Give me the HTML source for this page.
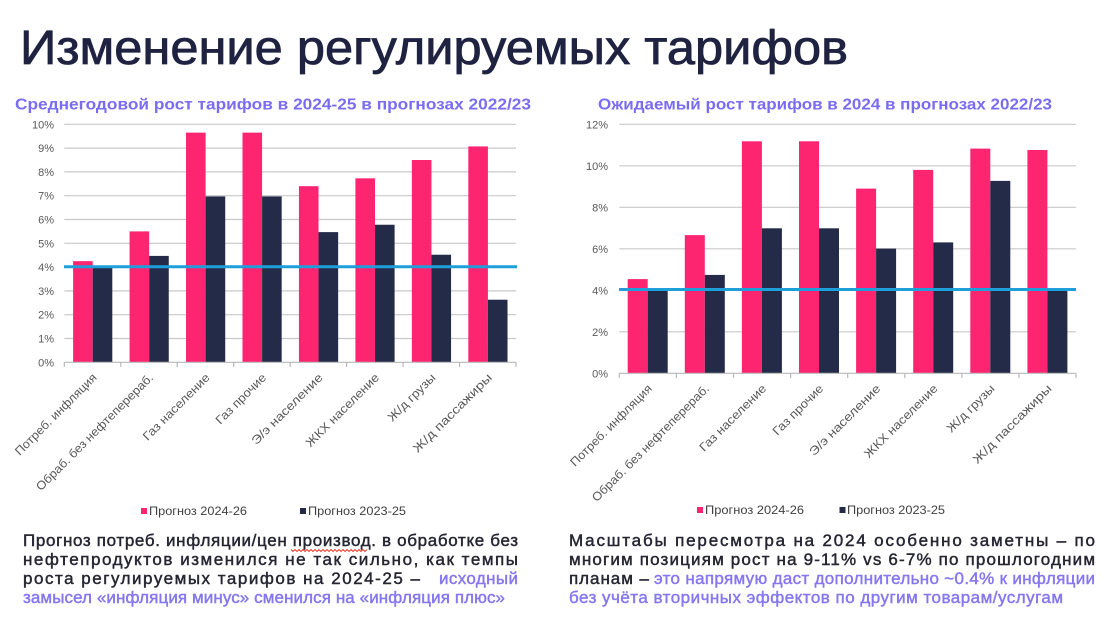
<!DOCTYPE html>
<html>
<head>
<meta charset="utf-8">
<style>
  html, body { margin: 0; padding: 0; background: #ffffff; }
  body { width: 1119px; height: 623px; overflow: hidden; }
  svg { display: block; font-family: "Liberation Sans", "DejaVu Sans", sans-serif; }
  .ax { font-size: 11px; fill: #595959; }
  .xl { font-size: 12px; fill: #595959; }
  .lg { font-size: 12px; fill: #404040; }
  .bd { font-size: 17px; fill: #262633; stroke: #262633; stroke-width: 0.45; }
  .bp { font-size: 17px; fill: #8577f0; stroke: #8577f0; stroke-width: 0.45; }
  .st { font-size: 16px; font-weight: bold; fill: #7a6cf2; }
</style>
</head>
<body>
<svg width="1119" height="623" viewBox="0 0 1119 623" xmlns="http://www.w3.org/2000/svg">
  <rect x="0" y="0" width="1119" height="623" fill="#ffffff"/>

  <!-- Title -->
  <text x="20" y="64" font-size="48" fill="#1f2341" stroke="#1f2341" stroke-width="0.8" textLength="828" lengthAdjust="spacingAndGlyphs">Изменение регулируемых тарифов</text>

  <!-- Subtitles -->
  <text class="st" x="15" y="109.5" textLength="516" lengthAdjust="spacingAndGlyphs">Среднегодовой рост тарифов в 2024-25 в прогнозах 2022/23</text>
  <text class="st" x="598" y="109.5" textLength="454" lengthAdjust="spacingAndGlyphs">Ожидаемый рост тарифов в 2024 в прогнозах 2022/23</text>

  <!-- ================= LEFT CHART ================= -->
  <g stroke="#c8c8c8" stroke-width="1.2">
    <line x1="64.3" y1="338.5" x2="516" y2="338.5"/>
    <line x1="64.3" y1="314.7" x2="516" y2="314.7"/>
    <line x1="64.3" y1="290.9" x2="516" y2="290.9"/>
    <line x1="64.3" y1="267.1" x2="516" y2="267.1"/>
    <line x1="64.3" y1="243.3" x2="516" y2="243.3"/>
    <line x1="64.3" y1="219.5" x2="516" y2="219.5"/>
    <line x1="64.3" y1="195.7" x2="516" y2="195.7"/>
    <line x1="64.3" y1="171.9" x2="516" y2="171.9"/>
    <line x1="64.3" y1="148.1" x2="516" y2="148.1"/>
    <line x1="64.3" y1="124.3" x2="516" y2="124.3"/>
  </g>
  <g class="ax" text-anchor="end">
    <text x="54" y="366.3">0%</text>
    <text x="54" y="342.5">1%</text>
    <text x="54" y="318.7">2%</text>
    <text x="54" y="294.9">3%</text>
    <text x="54" y="271.1">4%</text>
    <text x="54" y="247.3">5%</text>
    <text x="54" y="223.5">6%</text>
    <text x="54" y="199.7">7%</text>
    <text x="54" y="175.9">8%</text>
    <text x="54" y="152.1">9%</text>
    <text x="54" y="128.3">10%</text>
  </g>
  <!-- bars left -->
  <g fill="#fd2570">
    <rect x="73.1" y="261.15" width="19.6" height="101.15"/>
    <rect x="129.56" y="231.4" width="19.6" height="130.9"/>
    <rect x="186.02" y="132.63" width="19.6" height="229.67"/>
    <rect x="242.48" y="132.63" width="19.6" height="229.67"/>
    <rect x="298.94" y="186.18" width="19.6" height="176.12"/>
    <rect x="355.4" y="178.33" width="19.6" height="183.97"/>
    <rect x="411.86" y="160" width="19.6" height="202.3"/>
    <rect x="468.32" y="146.43" width="19.6" height="215.87"/>
  </g>
  <g fill="#232b48">
    <rect x="92.7" y="266.62" width="19.6" height="95.68"/>
    <rect x="149.16" y="255.91" width="19.6" height="106.39"/>
    <rect x="205.62" y="196.41" width="19.6" height="165.89"/>
    <rect x="262.08" y="196.41" width="19.6" height="165.89"/>
    <rect x="318.54" y="232.11" width="19.6" height="130.19"/>
    <rect x="375.0" y="224.74" width="19.6" height="137.56"/>
    <rect x="431.46" y="254.72" width="19.6" height="107.58"/>
    <rect x="487.92" y="299.71" width="19.6" height="62.59"/>
  </g>
  <!-- axis left -->
  <g stroke="#b8b8b8" stroke-width="1.2">
    <line x1="64.3" y1="362.3" x2="516" y2="362.3"/>
    <line x1="64.3" y1="362.3" x2="64.3" y2="367"/>
    <line x1="120.76" y1="362.3" x2="120.76" y2="367"/>
    <line x1="177.22" y1="362.3" x2="177.22" y2="367"/>
    <line x1="233.68" y1="362.3" x2="233.68" y2="367"/>
    <line x1="290.14" y1="362.3" x2="290.14" y2="367"/>
    <line x1="346.6" y1="362.3" x2="346.6" y2="367"/>
    <line x1="403.06" y1="362.3" x2="403.06" y2="367"/>
    <line x1="459.52" y1="362.3" x2="459.52" y2="367"/>
    <line x1="516" y1="362.3" x2="516" y2="367"/>
  </g>
  <!-- blue 4% line left -->
  <line x1="64" y1="266.8" x2="517" y2="266.8" stroke="#1f9fda" stroke-width="3"/>
  <!-- x labels left -->
  <g class="xl" text-anchor="end">
    <text transform="translate(97.5,378.3) rotate(-45)" textLength="110" lengthAdjust="spacingAndGlyphs">Потреб. инфляция</text>
    <text transform="translate(154,378.3) rotate(-45)" textLength="160" lengthAdjust="spacingAndGlyphs">Обраб. без нефтеперераб.</text>
    <text transform="translate(210.5,378.3) rotate(-45)" textLength="89" lengthAdjust="spacingAndGlyphs">Газ население</text>
    <text transform="translate(267,378.3) rotate(-45)" textLength="66" lengthAdjust="spacingAndGlyphs">Газ прочие</text>
    <text transform="translate(323.4,378.3) rotate(-45)" textLength="95" lengthAdjust="spacingAndGlyphs">Э/э население</text>
    <text transform="translate(379.8,378.3) rotate(-45)" textLength="98" lengthAdjust="spacingAndGlyphs">ЖКХ население</text>
    <text transform="translate(436.3,378.3) rotate(-45)" textLength="62" lengthAdjust="spacingAndGlyphs">Ж/д грузы</text>
    <text transform="translate(492.7,378.3) rotate(-45)" textLength="106" lengthAdjust="spacingAndGlyphs">Ж/д пассажиры</text>
  </g>
  <!-- legend left -->
  <rect x="141" y="508" width="6" height="6" fill="#fd2570"/>
  <text class="lg" x="149" y="515" textLength="98" lengthAdjust="spacingAndGlyphs">Прогноз 2024-26</text>
  <rect x="300" y="508" width="6" height="6" fill="#232b48"/>
  <text class="lg" x="308" y="515" textLength="98" lengthAdjust="spacingAndGlyphs">Прогноз 2023-25</text>

  <!-- ================= RIGHT CHART ================= -->
  <g stroke="#c8c8c8" stroke-width="1.2">
    <line x1="619.3" y1="331.8" x2="1076" y2="331.8"/>
    <line x1="619.3" y1="290.3" x2="1076" y2="290.3"/>
    <line x1="619.3" y1="248.8" x2="1076" y2="248.8"/>
    <line x1="619.3" y1="207.3" x2="1076" y2="207.3"/>
    <line x1="619.3" y1="165.8" x2="1076" y2="165.8"/>
    <line x1="619.3" y1="124.3" x2="1076" y2="124.3"/>
  </g>
  <g class="ax" text-anchor="end">
    <text x="608" y="377.3">0%</text>
    <text x="608" y="335.8">2%</text>
    <text x="608" y="294.3">4%</text>
    <text x="608" y="252.8">6%</text>
    <text x="608" y="211.3">8%</text>
    <text x="608" y="169.8">10%</text>
    <text x="608" y="128.3">12%</text>
  </g>
  <g fill="#fd2570">
    <rect x="627.7" y="279.1" width="20" height="94.2"/>
    <rect x="684.8" y="235.1" width="20" height="138.2"/>
    <rect x="741.9" y="141.3" width="20" height="232"/>
    <rect x="799.0" y="141.3" width="20" height="232"/>
    <rect x="856.1" y="188.6" width="20" height="184.7"/>
    <rect x="913.2" y="169.9" width="20" height="203.4"/>
    <rect x="970.3" y="148.6" width="20" height="224.7"/>
    <rect x="1027.4" y="150.0" width="20" height="223.3"/>
  </g>
  <g fill="#232b48">
    <rect x="647.7" y="290.1" width="20" height="83.2"/>
    <rect x="704.8" y="274.9" width="20" height="98.4"/>
    <rect x="761.9" y="228.3" width="20" height="145"/>
    <rect x="819.0" y="228.3" width="20" height="145"/>
    <rect x="876.1" y="248.6" width="20" height="124.7"/>
    <rect x="933.2" y="242.4" width="20" height="130.9"/>
    <rect x="990.3" y="180.9" width="20" height="192.4"/>
    <rect x="1047.4" y="290.3" width="20" height="83"/>
  </g>
  <g stroke="#b8b8b8" stroke-width="1.2">
    <line x1="619.3" y1="373.3" x2="1076" y2="373.3"/>
    <line x1="619.3" y1="373.3" x2="619.3" y2="378"/>
    <line x1="676.4" y1="373.3" x2="676.4" y2="378"/>
    <line x1="733.5" y1="373.3" x2="733.5" y2="378"/>
    <line x1="790.6" y1="373.3" x2="790.6" y2="378"/>
    <line x1="847.7" y1="373.3" x2="847.7" y2="378"/>
    <line x1="904.8" y1="373.3" x2="904.8" y2="378"/>
    <line x1="961.9" y1="373.3" x2="961.9" y2="378"/>
    <line x1="1019.0" y1="373.3" x2="1019.0" y2="378"/>
    <line x1="1076" y1="373.3" x2="1076" y2="378"/>
  </g>
  <line x1="619" y1="289.5" x2="1076" y2="289.5" stroke="#1f9fda" stroke-width="3"/>
  <g class="xl" text-anchor="end">
    <text transform="translate(652.8,389.3) rotate(-45)" textLength="110" lengthAdjust="spacingAndGlyphs">Потреб. инфляция</text>
    <text transform="translate(709.9,389.3) rotate(-45)" textLength="160" lengthAdjust="spacingAndGlyphs">Обраб. без нефтеперераб.</text>
    <text transform="translate(767,389.3) rotate(-45)" textLength="89" lengthAdjust="spacingAndGlyphs">Газ население</text>
    <text transform="translate(824.1,389.3) rotate(-45)" textLength="66" lengthAdjust="spacingAndGlyphs">Газ прочие</text>
    <text transform="translate(881.2,389.3) rotate(-45)" textLength="95" lengthAdjust="spacingAndGlyphs">Э/э население</text>
    <text transform="translate(938.3,389.3) rotate(-45)" textLength="98" lengthAdjust="spacingAndGlyphs">ЖКХ население</text>
    <text transform="translate(995.4,389.3) rotate(-45)" textLength="62" lengthAdjust="spacingAndGlyphs">Ж/д грузы</text>
    <text transform="translate(1052.5,389.3) rotate(-45)" textLength="106" lengthAdjust="spacingAndGlyphs">Ж/д пассажиры</text>
  </g>
  <rect x="697" y="507" width="6" height="6" fill="#fd2570"/>
  <text class="lg" x="705" y="514" textLength="99" lengthAdjust="spacingAndGlyphs">Прогноз 2024-26</text>
  <rect x="839.5" y="507" width="6" height="6" fill="#232b48"/>
  <text class="lg" x="847" y="514" textLength="98" lengthAdjust="spacingAndGlyphs">Прогноз 2023-25</text>

  <!-- ================= BODY TEXT LEFT ================= -->
  <text class="bd" x="23" y="546" textLength="495" lengthAdjust="spacing">Прогноз потреб. инфляции/цен производ. в обработке без</text>
  <polyline points="291,549.5 293,551.5 295,549.5 297,551.5 299,549.5 301,551.5 303,549.5 305,551.5 307,549.5 309,551.5 311,549.5 313,551.5 315,549.5 317,551.5 319,549.5 321,551.5 323,549.5 325,551.5 327,549.5 329,551.5 331,549.5 333,551.5 335,549.5 337,551.5 339,549.5 341,551.5 343,549.5 345,551.5 347,549.5 349,551.5 351,549.5 353,551.5 355,549.5 357,551.5 359,549.5 361,551.5 363,549.5 365,551.5 367,549.5" fill="none" stroke="#e0301e" stroke-width="0.9"/>
  <text class="bd" x="23" y="565" textLength="495" lengthAdjust="spacing">нефтепродуктов изменился не так сильно, как темпы</text>
  <text class="bd" x="23" y="584" textLength="397" lengthAdjust="spacing">роста регулируемых тарифов на 2024-25 –</text>
  <text class="bp" x="439" y="584" textLength="79" lengthAdjust="spacing">исходный</text>
  <text class="bp" x="23" y="603" textLength="482" lengthAdjust="spacing">замысел «инфляция минус» сменился на «инфляция плюс»</text>

  <!-- ================= BODY TEXT RIGHT ================= -->
  <text class="bd" x="569" y="546" textLength="526" lengthAdjust="spacing">Масштабы пересмотра на 2024 особенно заметны – по</text>
  <text class="bd" x="569" y="565" textLength="526" lengthAdjust="spacing">многим позициям рост на 9-11% vs 6-7% по прошлогодним</text>
  <text class="bd" x="569" y="584" textLength="80" lengthAdjust="spacing">планам –</text>
  <text class="bp" x="654" y="584" textLength="441" lengthAdjust="spacing">это напрямую даст дополнительно ~0.4% к инфляции</text>
  <text class="bp" x="569" y="603" textLength="494" lengthAdjust="spacing">без учёта вторичных эффектов по другим товарам/услугам</text>
</svg>
</body>
</html>
